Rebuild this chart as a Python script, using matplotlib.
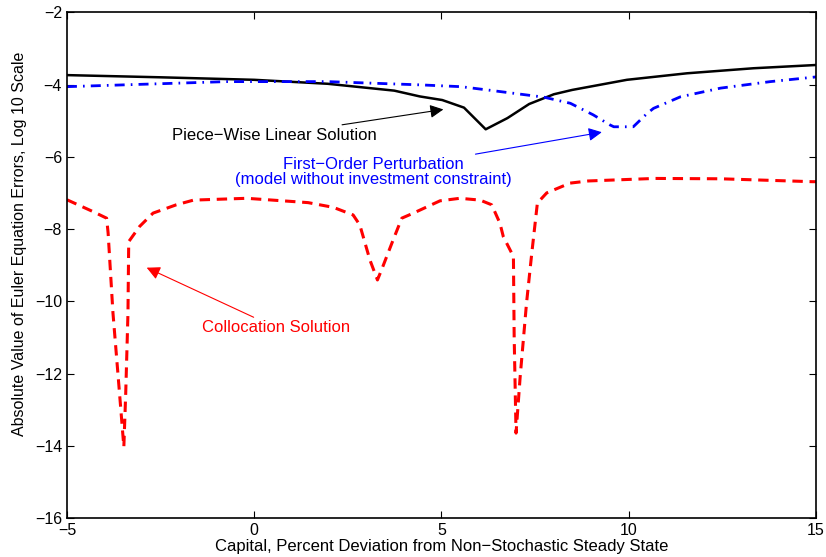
import matplotlib
matplotlib.use('Agg')
import matplotlib.pyplot as plt

plt.rcParams['font.family'] = ['Liberation Sans', 'DejaVu Sans']

# piece-wise linear solution (black, solid)
pwl_x = [-5.0, -2.52, 0.0, 1.96, 3.74, 4.42, 5.02, 5.60, 6.18, 6.76, 7.34, 8.00, 8.49, 9.95, 11.55, 13.33, 15.0]
pwl_y = [-3.74, -3.80, -3.87, -3.98, -4.17, -4.33, -4.43, -4.64, -5.24, -4.93, -4.54, -4.27, -4.15, -3.87, -3.69, -3.55, -3.46]

# first-order perturbation (blue, dash-dot)
pert_x = [-5.0, -0.74, 1.96, 4.43, 5.52, 6.22, 7.73, 8.44, 9.05, 9.50, 9.60, 10.12, 10.49, 10.66, 11.38, 12.45, 13.78, 15.0]
pert_y = [-4.06, -3.92, -3.92, -4.01, -4.06, -4.15, -4.35, -4.52, -4.84, -5.12, -5.17, -5.17, -4.80, -4.66, -4.34, -4.10, -3.92, -3.79]

# collocation solution (red, dashed)
coll_x = [-5.0, -4.30, -3.94, -3.90, -3.77, -3.61, -3.48, -3.43, -3.37, -3.35, -3.06, -2.70, -2.08,
          -1.62, -0.20, 1.04, 1.44, 2.11, 2.64, 2.82, 3.09, 3.29, 3.40, 3.71, 3.94, 4.25, 4.96,
          5.49, 6.03, 6.34, 6.56, 6.65, 6.92, 6.94, 6.99, 7.10, 7.27, 7.41, 7.56, 7.81, 8.43,
          8.92, 10.70, 12.45, 14.90, 15.0]
coll_y = [-7.19, -7.52, -7.70, -8.11, -10.33, -12.36, -14.03, -12.55, -10.33, -8.35, -7.93, -7.56, -7.33,
          -7.20, -7.15, -7.24, -7.27, -7.40, -7.61, -7.89, -8.86, -9.41, -9.13, -8.30, -7.70, -7.56, -7.22,
          -7.15, -7.20, -7.33, -7.84, -8.21, -8.76, -10.98, -13.65, -12.09, -10.05, -8.67, -7.28, -7.00, -6.73,
          -6.67, -6.60, -6.61, -6.69, -6.69]

fig = plt.figure(figsize=(8.26, 5.57), dpi=100)
ax = fig.add_axes([0.081, 0.07, 0.907, 0.908])

ax.plot(pwl_x, pwl_y, color='black', lw=1.8)
ax.plot(pert_x, pert_y, color='blue', lw=2.0, linestyle=(0, (3.6, 2.2, 0.6, 2.2)))
ax.plot(coll_x, coll_y, color='red', lw=2.2, linestyle=(0, (3.4, 2.2)))

ax.set_xlim(-5, 15)
ax.set_ylim(-16, -2)
ax.set_xticks([-5, 0, 5, 10, 15])
ax.set_yticks(range(-16, -1, 2))
ax.tick_params(direction='in', top=True, right=True, length=5, width=0.8, labelsize=11.5)
for s in ax.spines.values():
    s.set_linewidth(1.2)

ax.set_xlabel('Capital, Percent Deviation from Non\u2212Stochastic Steady State', fontsize=12, labelpad=1)
ax.set_ylabel('Absolute Value of Euler Equation Errors, Log 10 Scale', fontsize=11.5)
ax.yaxis.set_label_coords(-0.053, 0.543)

arrow = dict(arrowstyle='-|>', mutation_scale=20, lw=0.8, shrinkA=0, shrinkB=0)

ax.annotate('Piece\u2212Wise Linear Solution', xy=(5.05, -4.69), xytext=(3.27, -5.40),
            color='black', fontsize=12, ha='right', va='center',
            arrowprops=dict(arrow, color='black'))
ax.annotate('First\u2212Order Perturbation\n(model without investment constraint)',
            xy=(9.28, -5.32), xytext=(6.87, -6.42),
            color='blue', fontsize=12, ha='right', va='center', multialignment='center',
            linespacing=1.0, arrowprops=dict(arrow, color='blue'))
ax.annotate('Collocation Solution', xy=(-2.87, -9.07), xytext=(-1.40, -10.52),
            color='red', fontsize=12, ha='left', va='top',
            arrowprops=dict(arrow, color='red'))

fig.savefig('out.png', dpi=100)
